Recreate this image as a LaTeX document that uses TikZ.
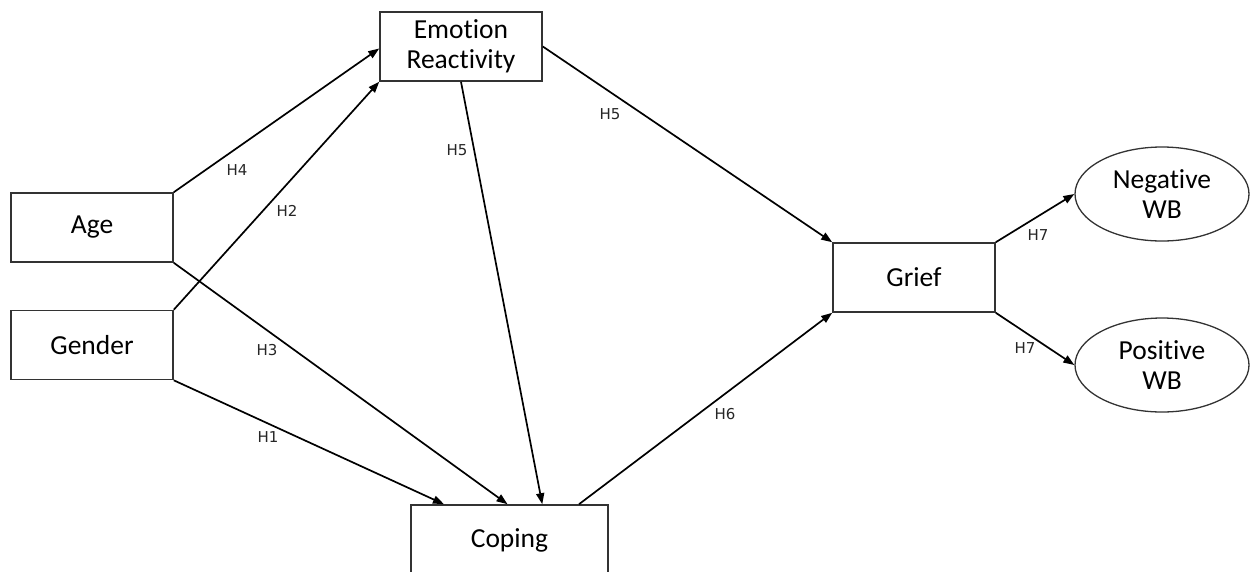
\documentclass[tikz,border=0pt]{standalone}
\usepackage{fontspec}
\setmainfont{Carlito}[Ligatures=NoCommon,RawFeature={-liga;-clig}]
\newfontfamily\hfont{DejaVu Sans}
\usetikzlibrary{arrows.meta,calc,shapes.geometric}
\begin{document}
\begin{tikzpicture}[x=1pt,y=-1pt,
  box/.style={draw=black!80,line width=1.6pt,minimum width=162pt,minimum height=69pt,inner sep=0pt,align=center,font=\fontsize{27.5}{29.5}\selectfont},
  oval/.style={ellipse,draw=black!80,line width=1.3pt,minimum width=174pt,minimum height=94pt,inner sep=0pt,align=center,font=\fontsize{27.5}{30}\selectfont},
  conn/.style={line width=1.7pt,-{Triangle[length=11pt,width=8pt]}},
  hl/.style={font=\hfont\fontsize{15}{17}\selectfont,text=black!85,inner sep=0pt}]
\useasboundingbox (0,0) rectangle (1250,571);
\node[box] (age) at (92,227.5) {Age};
\node[box] (gender) at (92,345) {Gender};
\node[box] (er) at (461,46.5) {Emotion\\Reactivity};
\node[box,minimum width=197pt,minimum height=70pt] (coping) at (509.5,540) {Coping};
\node[box] (grief) at (914,277.5) {Grief};
\node[oval] (neg) at (1162,194) {Negative\\WB};
\node[oval] (pos) at (1162,365) {Positive\\WB};
\draw[conn] (age.north east) -- ($(er.west)+(0,2)$);
\draw[conn] (gender.north east) -- (er.south west);
\draw[conn] (age.south east) -- ($(coping.north west)!0.49!(coping.north east)$);
\draw[conn] (gender.south east) -- ($(coping.north west)!0.17!(coping.north east)$);
\draw[conn] (er.south) -- ($(coping.north west)!0.665!(coping.north east)$);
\draw[conn] ($(coping.north west)!0.85!(coping.north east)$) -- (grief.south west);
\draw[conn] (er.east) -- (grief.north west);
\draw[conn] (grief.north east) -- (neg.west);
\draw[conn] (grief.south east) -- (pos.west);
\node[hl] (h4) at (237,170) {H4};
\node[hl] (h2) at (287,211) {H2};
\node[hl] (h3) at (267,350) {H3};
\node[hl] (h1) at (268,437) {H1};
\node[hl] (h5a) at (457,150) {H5};
\node[hl] (h5b) at (610,114) {H5};
\node[hl] (h6) at (725,414) {H6};
\node[hl] (h7a) at (1038,235) {H7};
\node[hl] (h7b) at (1025,348) {H7};
\end{tikzpicture}
\end{document}
